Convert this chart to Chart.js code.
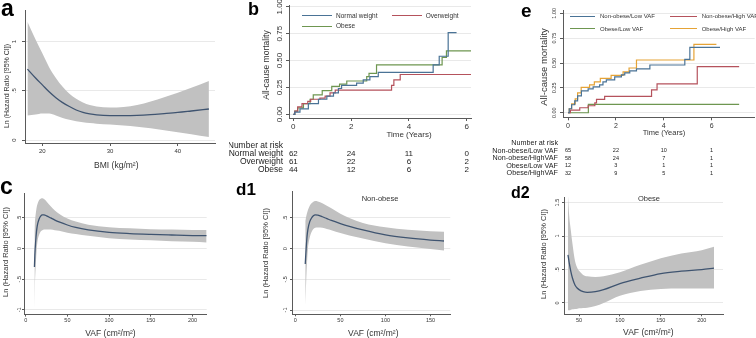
<!DOCTYPE html>
<html><head><meta charset="utf-8">
<script src="https://cdn.jsdelivr.net/npm/chart.js@4.4.0/dist/chart.umd.min.js"></script>
<style>
html,body{margin:0;padding:0;background:#fff;}
#fig{position:relative;width:756px;height:338px;overflow:hidden;background:#fff;font-family:"Liberation Sans",Arial,sans-serif;}
canvas{position:absolute;}
.t{position:absolute;white-space:nowrap;color:#333;line-height:1;}
.leg{position:absolute;height:0;border-top:1px solid;}
</style></head><body><div id="fig"></div>
<script>
// ---------- DATA ----------
// Panel a: BMI spline
const bmiGrid  = [17.8, 19, 20, 21, 22, 23, 24, 25, 26, 27, 28, 30, 32, 34, 36, 38, 40, 42, 44.6];
const bmiLnHR  = [0.72, 0.63, 0.56, 0.49, 0.43, 0.38, 0.34, 0.305, 0.28, 0.265, 0.255, 0.248, 0.248, 0.25, 0.257, 0.268, 0.28, 0.295, 0.315];
const bmiUpper = [1.2, 1.02, 0.88, 0.74, 0.63, 0.54, 0.47, 0.42, 0.38, 0.355, 0.34, 0.33, 0.335, 0.355, 0.39, 0.435, 0.48, 0.53, 0.6];
const bmiLower = [0.25, 0.26, 0.27, 0.27, 0.25, 0.225, 0.205, 0.19, 0.18, 0.172, 0.166, 0.157, 0.147, 0.135, 0.12, 0.1, 0.08, 0.06, 0.03];
// Panel c: VAF all
const vafAll   = [10.5, 11, 12, 13, 14, 16, 18, 20, 22, 25, 30, 35, 40, 50, 60, 75, 100, 125, 150, 175, 200, 217];
const hrAll    = [-0.3, -0.1, 0.12, 0.28, 0.38, 0.48, 0.53, 0.55, 0.55, 0.535, 0.5, 0.465, 0.435, 0.385, 0.345, 0.305, 0.265, 0.245, 0.232, 0.222, 0.213, 0.21];
const upAll    = [0.3, 0.42, 0.56, 0.66, 0.72, 0.79, 0.815, 0.82, 0.81, 0.77, 0.69, 0.62, 0.57, 0.49, 0.44, 0.39, 0.35, 0.33, 0.315, 0.31, 0.305, 0.305];
const loAll    = [-1.05, -0.65, -0.3, -0.05, 0.1, 0.22, 0.28, 0.3, 0.31, 0.31, 0.31, 0.3, 0.29, 0.26, 0.24, 0.21, 0.17, 0.15, 0.135, 0.12, 0.11, 0.1];
// Panel d1: VAF non-obese
const vafNon   = [11, 12, 13, 14, 16, 18, 20, 22, 25, 30, 35, 40, 50, 60, 75, 100, 125, 150, 165];
const hrNon    = [-0.25, 0.0, 0.2, 0.32, 0.44, 0.5, 0.535, 0.55, 0.545, 0.52, 0.49, 0.46, 0.41, 0.365, 0.305, 0.225, 0.175, 0.14, 0.125];
const upNon    = [0.45, 0.52, 0.58, 0.63, 0.7, 0.74, 0.765, 0.775, 0.77, 0.74, 0.7, 0.66, 0.57, 0.5, 0.42, 0.35, 0.31, 0.285, 0.275];
const loNon    = [-0.92, -0.55, -0.22, 0.0, 0.18, 0.27, 0.32, 0.34, 0.345, 0.34, 0.32, 0.3, 0.255, 0.215, 0.165, 0.09, 0.035, -0.005, -0.03];
// Panel d2: VAF obese
const vafOb    = [36.5, 38, 40, 42, 45, 48, 50, 55, 60, 70, 80, 100, 125, 150, 175, 200, 215];
const hrOb     = [0.72, 0.6, 0.47, 0.37, 0.27, 0.22, 0.2, 0.17, 0.16, 0.17, 0.2, 0.29, 0.37, 0.44, 0.475, 0.5, 0.52];
const upOb     = [1.6, 1.3, 1.08, 0.88, 0.63, 0.52, 0.48, 0.42, 0.4, 0.39, 0.4, 0.46, 0.57, 0.67, 0.74, 0.79, 0.84];
const loOb     = [-0.11, -0.11, -0.1, -0.095, -0.09, -0.085, -0.08, -0.075, -0.07, -0.045, 0.0, 0.11, 0.18, 0.21, 0.215, 0.215, 0.215];
// Panel b: Kaplan-Meier by BMI group
const bNormT = [0, 0.05, 0.23, 0.52, 0.87, 1.16, 1.39, 1.56, 1.67, 2.19, 2.42, 2.65, 2.94, 4.84, 5.05, 5.36, 5.65];
const bNormS = [0, 0.02, 0.05, 0.1, 0.14, 0.17, 0.2, 0.24, 0.27, 0.29, 0.32, 0.35, 0.39, 0.46, 0.54, 0.76, 0.76];
const bOverT = [0, 0.05, 0.15, 0.3, 0.5, 0.6, 0.92, 1.1, 1.27, 1.45, 3.4, 3.48, 3.7, 6.15];
const bOverS = [0, 0.03, 0.07, 0.1, 0.12, 0.14, 0.15, 0.17, 0.2, 0.225, 0.27, 0.32, 0.37, 0.37];
const bObT   = [0, 0.05, 0.15, 0.35, 0.58, 0.69, 1.0, 1.33, 1.6, 1.85, 2.54, 2.62, 2.88, 5.15, 5.3, 6.15];
const bObS   = [0, 0.03, 0.06, 0.1, 0.14, 0.18, 0.22, 0.26, 0.28, 0.31, 0.35, 0.38, 0.46, 0.53, 0.59, 0.59];
// Panel e: Kaplan-Meier by obesity / VAF group
const eNLT = [0, 0.05, 0.15, 0.28, 0.4, 0.56, 0.84, 1.05, 1.32, 1.46, 1.6, 1.95, 2.23, 2.37, 2.58, 2.86, 3.42, 4.88, 5.09, 6.35];
const eNLS = [0, 0.04, 0.08, 0.12, 0.17, 0.22, 0.24, 0.26, 0.28, 0.31, 0.33, 0.36, 0.38, 0.4, 0.42, 0.44, 0.48, 0.537, 0.658, 0.658];
const eNHT = [0, 0.1, 0.49, 0.84, 1.12, 1.19, 1.53, 3.49, 3.72, 5.4, 7.15];
const eNHS = [0, 0.027, 0.05, 0.07, 0.1, 0.134, 0.165, 0.23, 0.29, 0.463, 0.463];
const eOLT = [0, 0.85, 7.15];
const eOLS = [0, 0.084, 0.084];
const eOHT = [0, 0.05, 0.15, 0.3, 0.4, 0.55, 0.9, 1.1, 1.35, 1.8, 2.3, 2.55, 2.86, 5.26, 6.2];
const eOHS = [0, 0.04, 0.09, 0.14, 0.2, 0.255, 0.28, 0.31, 0.345, 0.375, 0.41, 0.45, 0.53, 0.688, 0.688];
// Numbers at risk
const riskTimes = [0, 2, 4, 6];
const bRiskLabels = ['Normal weight', 'Overweight', 'Obese'];
const riskNormal = [62, 24, 11, 0];
const riskOver   = [61, 22, 6, 2];
const riskObese  = [44, 12, 6, 2];
const eRiskLabels = ['Non-obese/Low VAF', 'Non-obese/HighVAF', 'Obese/Low VAF', 'Obese/HighVAF'];
const riskNL = [65, 22, 10, 1];
const riskNH = [58, 24, 7, 1];
const riskOL = [12, 3, 1, 1];
const riskOH = [32, 9, 5, 1];
// Ticks
const bmiTicks = [20, 30, 40];
const aYTicks = [0, 0.5, 1], aYLabels = ['0', '.5', '1'];
const kmXTicks = [0, 2, 4, 6];
const kmYTicks = [0, 0.25, 0.5, 0.75, 1], kmYLabels = ['0.00', '0.25', '0.50', '0.75', '1.00'];
const vafTicksC = [0, 50, 100, 150, 200];
const vafTicksD1 = [0, 50, 100, 150];
const vafTicksD2 = [50, 100, 150, 200];
const cYTicks = [-1, -0.5, 0, 0.5], cYLabels = ['-1', '-.5', '0', '.5'];
const d2YTicks = [0, 0.5, 1, 1.5], d2YLabels = ['0', '.5', '1', '1.5'];

// ---------- RENDERING ----------
const FONT = '"Liberation Sans", Arial, sans-serif';
const fig = document.getElementById('fig');
const BAND = '#c1c1c1', EST = '#3f5470', AX = '#5a5a5a', GRID = '#e9e9e9';
const C_BLUE = '#4a7396', C_RED = '#b5525c', C_GREEN = '#6e9650', C_ORANGE = '#e5a336';

const pts = (xs, ys) => xs.map((x, i) => ({x: x, y: ys[i]}));

const stataPlugin = {
  id: 'stata',
  afterDraw(chart, args, o) {
    const ctx = chart.ctx, ys = chart.scales.y, xs = chart.scales.x, ca = chart.chartArea;
    ctx.save();
    ctx.fillStyle = '#333';
    ctx.font = o.yFont + 'px ' + FONT;
    ctx.textAlign = 'center'; ctx.textBaseline = 'middle';
    ys.ticks.forEach((t, i) => {
      const py = ys.getPixelForValue(t.value);
      ctx.save(); ctx.translate(ca.left - o.yOff, py); ctx.rotate(-Math.PI / 2);
      ctx.fillText(o.yLabels[i], 0, 0); ctx.restore();
    });
    if (o.risk) {
      const r = o.risk;
      ctx.fillStyle = '#222';
      ctx.textAlign = 'right';
      ctx.font = r.labFont + 'px ' + FONT;
      ctx.fillText('Number at risk', r.labRight - o.offX, r.headY - o.offY);
      r.labels.forEach((lab, k) => {
        ctx.font = r.labFont + 'px ' + FONT;
        ctx.textAlign = 'right';
        ctx.fillText(lab, r.labRight - o.offX, r.rowY[k] - o.offY);
        ctx.font = r.numFont + 'px ' + FONT;
        ctx.textAlign = 'center';
        r.rows[k].forEach((n, j) => {
          ctx.fillText(String(n), xs.getPixelForValue(riskTimes[j]), r.rowY[k] - o.offY);
        });
      });
    }
    ctx.restore();
  }
};

function makePanel(s) {
  const YW = 4, XH = 14;
  const cl = s.plot.l - s.padL, ct = s.plot.t - s.padT;
  const cw = Math.round(s.plot.r + s.padR - cl), ch = Math.round(s.plot.b + s.padB - ct);
  const c = document.createElement('canvas');
  c.width = cw; c.height = ch;
  c.style.left = cl + 'px'; c.style.top = ct + 'px';
  c.style.width = cw + 'px'; c.style.height = ch + 'px';
  fig.appendChild(c);
  const padR = cw - (s.plot.r - cl);
  const padB = ch - (s.plot.b - ct);
  new Chart(c, {
    type: 'line',
    data: {datasets: s.datasets},
    plugins: [stataPlugin],
    options: {
      responsive: false, animation: false, devicePixelRatio: 1,
      layout: {padding: {left: s.padL - YW, top: s.padT, right: padR, bottom: padB - XH}},
      plugins: {
        legend: {display: false}, tooltip: {enabled: false},
        stata: {yLabels: s.yLabels, yFont: s.yFont, yOff: s.yOff, risk: s.risk, offX: cl, offY: ct}
      },
      elements: {point: {radius: 0}},
      scales: {
        x: {
          type: 'linear', min: s.xMin, max: s.xMax,
          afterBuildTicks: sc => { sc.ticks = s.xTicks.map(v => ({value: v})); },
          afterFit: sc => { sc.height = XH; sc.paddingLeft = 0; sc.paddingRight = 0; },
          ticks: {autoSkip: false, maxRotation: 0, minRotation: 0, padding: s.xPad, color: '#333',
                  font: {family: FONT, size: s.xFont}, callback: v => String(v)},
          grid: {drawOnChartArea: false, drawTicks: true, tickLength: s.tick, tickColor: AX},
          border: {display: true, color: AX, width: 1}
        },
        y: {
          type: 'linear', min: s.yMin, max: s.yMax,
          afterBuildTicks: sc => { sc.ticks = s.yTicks.map(v => ({value: v})); },
          afterFit: sc => { sc.width = YW; },
          ticks: {display: false},
          grid: {color: GRID, lineWidth: 1, drawTicks: true, tickLength: s.tick, tickColor: AX},
          border: {display: true, color: AX, width: 1}
        }
      }
    }
  });
}

function splineSets(xs, est, up, lo) {
  return [
    {data: pts(xs, est), borderColor: EST, borderWidth: 1.3, cubicInterpolationMode: 'monotone', fill: false},
    {data: pts(xs, up), borderWidth: 0, borderColor: 'rgba(0,0,0,0)', backgroundColor: BAND, cubicInterpolationMode: 'monotone', fill: '+1'},
    {data: pts(xs, lo), borderWidth: 0, borderColor: 'rgba(0,0,0,0)', cubicInterpolationMode: 'monotone', fill: false}
  ];
}
function kmSet(ts, ss, col) {
  return {data: pts(ts, ss), borderColor: col, borderWidth: 1.2, stepped: 'before', fill: false};
}

// a
makePanel({plot: {l: 25, t: 10, r: 215, b: 143}, padL: 25, padT: 6, padR: 8, padB: 16, tick: 3,
  xMin: 17.44, xMax: 45.5, xTicks: bmiTicks, xFont: 6, xPad: 2,
  yMin: -0.03, yMax: 1.32, yTicks: aYTicks, yLabels: aYLabels, yFont: 6, yOff: 11,
  datasets: splineSets(bmiGrid, bmiLnHR, bmiUpper, bmiLower)});
// b
makePanel({plot: {l: 289, t: 5, r: 471, b: 118}, padL: 60, padT: 5, padR: 6, padB: 60, tick: 3,
  xMin: -0.15, xMax: 6.15, xTicks: kmXTicks, xFont: 8, xPad: 1,
  yMin: -0.034, yMax: 1.016, yTicks: kmYTicks, yLabels: kmYLabels, yFont: 8, yOff: 9.3,
  risk: {labRight: 283, headY: 145.7, rowY: [154, 162, 170], labels: bRiskLabels,
         rows: [riskNormal, riskOver, riskObese], labFont: 8.5, numFont: 8},
  datasets: [kmSet(bNormT, bNormS, C_BLUE), kmSet(bOverT, bOverS, C_RED), kmSet(bObT, bObS, C_GREEN)]});
// e
makePanel({plot: {l: 563.3, t: 10, r: 755, b: 117.3}, padL: 75, padT: 8, padR: 1, padB: 62, tick: 3,
  xMin: -0.21, xMax: 7.8, xTicks: kmXTicks, xFont: 7, xPad: 1.5,
  yMin: -0.046, yMax: 1.033, yTicks: kmYTicks, yLabels: kmYLabels, yFont: 5.5, yOff: 8.3,
  risk: {labRight: 558.3, headY: 142.7, rowY: [150.7, 158.3, 165.7, 173.3], labels: eRiskLabels,
         rows: [riskNL, riskNH, riskOL, riskOH], labFont: 7.2, numFont: 5.5},
  datasets: [kmSet(eNLT, eNLS, C_BLUE), kmSet(eNHT, eNHS, C_RED), kmSet(eOLT, eOLS, C_GREEN), kmSet(eOHT, eOHS, C_ORANGE)]});
// c
makePanel({plot: {l: 24, t: 192.7, r: 206.7, b: 314.3}, padL: 24, padT: 4, padR: 8, padB: 16, tick: 2,
  xMin: -2, xMax: 217, xTicks: vafTicksC, xFont: 5.5, xPad: 1,
  yMin: -1.077, yMax: 0.907, yTicks: cYTicks, yLabels: cYLabels, yFont: 5.5, yOff: 5,
  datasets: splineSets(vafAll, hrAll, upAll, loAll)});
// d1
makePanel({plot: {l: 291.7, t: 190.7, r: 450, b: 314}, padL: 12, padT: 4, padR: 8, padB: 16, tick: 2,
  xMin: -3.7, xMax: 172, xTicks: vafTicksD1, xFont: 5.5, xPad: 1,
  yMin: -1.07, yMax: 0.94, yTicks: cYTicks, yLabels: cYLabels, yFont: 5.5, yOff: 6.4,
  datasets: splineSets(vafNon, hrNon, upNon, loNon)});
// d2
makePanel({plot: {l: 564.3, t: 196.7, r: 723.3, b: 314}, padL: 12, padT: 4, padR: 8, padB: 16, tick: 2,
  xMin: 31.6, xMax: 226, xTicks: vafTicksD2, xFont: 5.5, xPad: 1,
  yMin: -0.169, yMax: 1.584, yTicks: d2YTicks, yLabels: d2YLabels, yFont: 5.5, yOff: 6.3,
  datasets: splineSets(vafOb, hrOb, upOb, loOb)});

// ---------- TEXT ----------
function txt(str, x, y, size, mode, extra) {
  const d = document.createElement('div');
  d.className = 't'; d.textContent = str;
  d.style.fontSize = size + 'px';
  d.style.left = x + 'px';
  if (mode === 'lb') { d.style.top = (y - 0.8465 * size) + 'px'; }
  else if (mode === 'lc') { d.style.top = y + 'px'; d.style.transform = 'translateY(-50%)'; }
  else if (mode === 'cc') { d.style.top = y + 'px'; d.style.transform = 'translate(-50%,-50%)'; }
  else if (mode === 'rot') { d.style.top = y + 'px'; d.style.transform = 'translate(-50%,-50%) rotate(-90deg)'; }
  if (extra) Object.assign(d.style, extra);
  fig.appendChild(d);
}
const bold = {fontWeight: 'bold', color: '#000'};
txt('a', 1, 16, 23, 'lb', bold);
txt('b', 248, 15, 18, 'lb', bold);
txt('e', 521, 16.7, 19, 'lb', bold);
txt('c', 0, 194, 23, 'lb', bold);
txt('d1', 236, 195, 17, 'lb', bold);
txt('d2', 511, 198.3, 16, 'lb', bold);

const yT = 'Ln (Hazard Ratio [95% CI])';
txt(yT, 5.7, 85.8, 7, 'rot');
txt('BMI (kg/m²)', 116.3, 165, 8.5, 'cc');
txt('All-cause mortality', 266, 65, 8.5, 'rot');
txt('Time (Years)', 409, 135, 8, 'cc');
txt('All-cause mortality', 544, 66.7, 9.5, 'rot');
txt('Time (Years)', 664, 132.7, 7.5, 'cc');
txt(yT, 5.7, 251.7, 7.5, 'rot');
txt('VAF (cm²/m²)', 110.5, 333, 8.5, 'cc');
txt(yT, 265.7, 252.5, 7.5, 'rot');
txt('VAF (cm²/m²)', 373.3, 332.7, 8.5, 'cc');
txt('Non-obese', 380, 199, 7.5, 'cc');
txt(yT, 544.3, 254, 7.5, 'rot');
txt('VAF (cm²/m²)', 648.3, 332.3, 8.5, 'cc');
txt('Obese', 649, 199, 7.5, 'cc');

// legends
function leg(x1, x2, y, col, label, lx, size) {
  const l = document.createElement('div');
  l.className = 'leg';
  l.style.left = x1 + 'px'; l.style.top = y + 'px'; l.style.width = (x2 - x1) + 'px';
  l.style.borderTopColor = col;
  fig.appendChild(l);
  txt(label, lx, y + 0.5, size, 'lc');
}
leg(301.7, 331.7, 15, C_BLUE, 'Normal weight', 336, 6.5);
leg(391.7, 421.7, 15, C_RED, 'Overweight', 425.7, 6.5);
leg(301.7, 331.7, 25.7, C_GREEN, 'Obese', 336, 6.5);
leg(570, 595, 15.7, C_BLUE, 'Non-obese/Low VAF', 600, 6);
leg(670, 697, 15.7, C_RED, 'Non-obese/High VAF', 701.7, 6);
leg(570, 595, 28.3, C_GREEN, 'Obese/Low VAF', 600, 6);
leg(670, 697, 28.3, C_ORANGE, 'Obese/High VAF', 701.7, 6);
</script></body></html>
